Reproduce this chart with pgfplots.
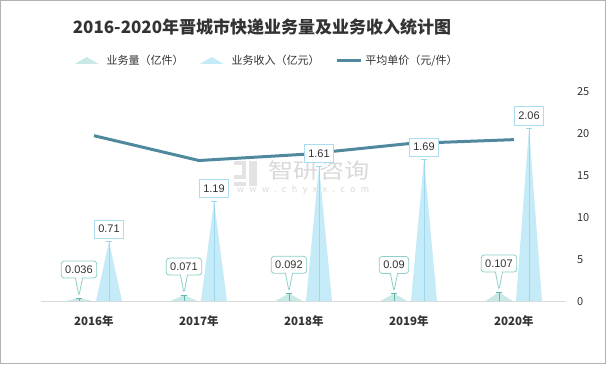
\documentclass[border=0pt]{standalone}
\usepackage{pgfplots}
\pgfplotsset{compat=1.18}
\usepackage{fontspec}
\setmainfont{Noto Sans CJK SC}
\newfontfamily\numfont{Liberation Sans}
\usetikzlibrary{shapes.callouts}
\definecolor{volfill}{RGB}{200,233,230}
\definecolor{volline}{RGB}{95,185,174}
\definecolor{volbox}{RGB}{140,207,199}
\definecolor{revfill}{RGB}{197,234,248}
\definecolor{revline}{RGB}{158,216,238}
\definecolor{revbox}{RGB}{169,221,239}
\definecolor{linec}{RGB}{80,137,158}
\definecolor{txt}{RGB}{51,51,51}
\begin{document}
\begin{tikzpicture}[x=1bp,y=1bp]
\path[use as bounding box] (0,0) rectangle (606,364);
\draw[gray!60, line width=1bp] (0.5,0.5) rectangle (605.5,363.5);
\node[font=\fontsize{17bp}{20bp}\selectfont\bfseries, text=txt] at (262,337) {2016-2020年晋城市快递业务量及业务收入统计图};
% watermark
\node[text=gray!30, inner sep=0pt, xscale=1.2, font=\fontsize{21bp}{22bp}\selectfont] at (319,193) {智研咨询};
\node[text=gray!30, inner sep=0pt, font=\fontsize{9bp}{10bp}\selectfont\addfontfeature{LetterSpace=60}] at (303,174) {www.chyxx.com};
\fill[gray!22] (234,199) rectangle (246,203);
\fill[gray!22] (242,185) rectangle (246,203);
\fill[gray!22] (234,185) rectangle (246,189);
\fill[gray!22] (234,178) rectangle (246,182);
\fill[gray!22] (249,178) rectangle (257,203);

\begin{axis}[at={(39.5,75)}, anchor=south west, scale only axis,
  width=525bp, height=209.7bp, xmin=-0.5, xmax=4.5, ymin=0, ymax=25,
  axis x line=none, axis y line*=right, y axis line style={draw=none},
  ytick={0,5,...,25}, major tick length=0,
  yticklabel style={font=\fontsize{11bp}{13bp}\selectfont, text=txt, xshift=7bp},
  /pgf/number format/assume math mode=true, clip=false]
\addplot[linec, line width=3bp, no marks] coordinates {(0,19.72)(1,16.76)(2,17.50)(3,18.78)(4,19.25)};
\end{axis}

\begin{axis}[at={(39.5,75)}, anchor=south west, scale only axis,
  width=525bp, height=209.7bp, xmin=-0.5, xmax=4.5, ymin=0, ymax=2.5,
  axis y line=none, axis x line*=bottom,
  x axis line style={draw=gray!30, line width=1bp, -},
  xtick={0,1,2,3,4}, xticklabels={2016年,2017年,2018年,2019年,2020年},
  major tick length=0,
  xticklabel style={font=\fontsize{11.5bp}{13bp}\selectfont\bfseries, text=txt, yshift=-11bp},
  unbounded coords=jump, clip=false,
  legend style={at={(0.43,1.145)}, anchor=center, draw=none, fill=none,
    font=\fontsize{11bp}{13bp}\selectfont, text=txt,
    /tikz/every even column/.append style={column sep=14bp}},
  legend columns=3, legend cell align=left]
\addplot[draw=none, fill=volfill,
  legend image code/.code={\fill[volfill] (0bp,-3bp) -- (12bp,4bp) -- (24bp,-3bp) -- cycle; \path (30bp,0bp);}]
  coordinates {(-0.273,0)(-0.143,0.036)(-0.013,0) (0,nan)
               (0.727,0)(0.857,0.071)(0.987,0) (1,nan)
               (1.727,0)(1.857,0.092)(1.987,0) (2,nan)
               (2.727,0)(2.857,0.09)(2.987,0) (3,nan)
               (3.727,0)(3.857,0.107)(3.987,0)};
\addlegendentry{业务量（亿件）}
\addplot[draw=none, fill=revfill,
  legend image code/.code={\fill[revfill] (0bp,-3bp) -- (12bp,4bp) -- (24bp,-3bp) -- cycle; \path (30bp,0bp);}]
  coordinates {(0.019,0)(0.143,0.71)(0.267,0) (0.5,nan)
               (1.019,0)(1.143,1.19)(1.267,0) (1.5,nan)
               (2.019,0)(2.143,1.61)(2.267,0) (2.5,nan)
               (3.019,0)(3.143,1.69)(3.267,0) (3.5,nan)
               (4.019,0)(4.143,2.06)(4.267,0)};
\addlegendentry{业务收入（亿元）}
\addplot[ycomb, draw=revline, line width=0.8bp, mark=-, mark size=3bp,
  mark options={draw=revline, line width=0.8bp}, forget plot,
  point meta=explicit symbolic, nodes near coords,
  every node near coord/.append style={draw=revbox, fill=white, line width=0.8bp,
    font=\numfont\fontsize{11bp}{13bp}\selectfont, text=txt, inner xsep=3.5bp,
    minimum height=18bp, anchor=south, yshift=3bp}]
  coordinates {(0.143,0.71)[0.71] (1.143,1.19)[1.19] (2.143,1.61)[1.61] (3.143,1.69)[1.69] (4.143,2.06)[2.06]};
\addplot[ycomb, draw=volline, line width=0.8bp, mark=-, mark size=3bp,
  mark options={draw=volline, line width=0.8bp}, forget plot,
  point meta=explicit symbolic, nodes near coords,
  every node near coord/.append style={rectangle callout, rounded corners=3bp,
    callout relative pointer={(0bp,-18bp)}, draw=volbox, fill=white, line width=0.8bp,
    font=\numfont\fontsize{11bp}{13bp}\selectfont, text=txt, inner xsep=4bp,
    minimum height=17bp, anchor=pointer}]
  coordinates {(-0.143,0.036)[0.036] (0.857,0.071)[0.071] (1.857,0.092)[0.092] (2.857,0.09)[0.09] (3.857,0.107)[0.107]};
\addlegendimage{legend image code/.code={\draw[linec, line width=3bp] (0bp,0bp) -- (24bp,0bp); \path (26bp,0bp);}}
\addlegendentry{平均单价（元/件）}
\end{axis}
\end{tikzpicture}
\end{document}
